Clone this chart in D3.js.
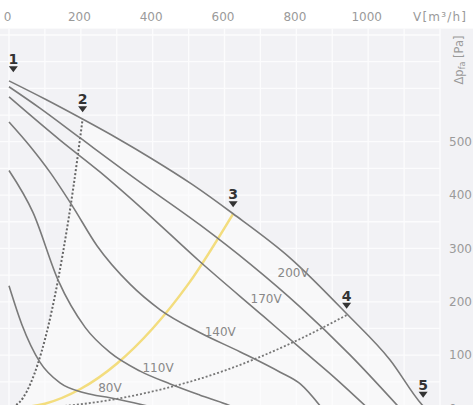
<!DOCTYPE html>
<html><head><meta charset="utf-8">
<script src="https://cdn.jsdelivr.net/npm/d3@7"></script>
<style>
html,body{margin:0;padding:0;background:#fff;}
svg{display:block;font-family:"DejaVu Sans",Verdana,sans-serif;}
</style>
</head><body>
<svg id="chart" width="473" height="405"></svg>
<script>
// ---- data ----
const xTicks = [0, 200, 400, 600, 800, 1000];
const yTicks = [0, 100, 200, 300, 400, 500];
const xUnit = "V[m³/h]";
const yUnitMain = "Δp";
const yUnitSub = "fa";
const yUnitTail = " [Pa]";

// top (maximum) fan curve, unlabeled in the visible area
const topFlow     = [0, 100, 206, 300, 393, 510, 624, 783, 941, 1061, 1150, 1160];
const topPressure = [614, 580, 542, 507, 470, 420, 365, 282, 177, 91, 7, 0];
// voltage curves
const v200Flow     = [0, 86, 198, 357, 532, 671, 811, 950, 1089];
const v200Pressure = [603, 563, 507, 428, 344, 271, 190, 100, 0];
const v170Flow     = [0, 142, 254, 365, 532, 708, 811, 908, 1000];
const v170Pressure = [584, 503, 443, 378, 275, 173, 113, 57, 0];
const v140Flow     = [0, 58, 114, 178, 245, 337, 421, 532, 644, 755, 811, 872];
const v140Pressure = [537, 492, 443, 378, 305, 233, 185, 142, 106, 68, 46, 0];
const v110Flow     = [0, 67, 137, 212, 281, 365, 449, 532, 616, 632];
const v110Pressure = [446, 367, 240, 152, 105, 70, 46, 25, 5, 0];
const v80Flow      = [0, 36, 86, 142, 212, 281, 365, 415];
const v80Pressure  = [230, 157, 87, 48, 29, 20, 8, 0];

// curve labels
const curveLabels    = ["200V", "170V", "140V", "110V", "80V"];
const labelFlow      = [791, 716, 588, 415, 281];
const labelPressure  = [246, 198, 135, 68, 31];

// operating point markers (on the top curve)
const markerNames    = ["1", "2", "3", "4", "5"];
const markerFlow     = [12, 205, 624, 940, 1153];
const markerPressure = [618, 543, 365, 175, 8];

// system curves through markers 2, 3, 4
const sys2Flow     = [0, 40, 80, 120, 150, 180, 205];
const sys2Pressure = [0, 21, 83, 186, 291, 418, 543];
const sys3Flow     = [0, 100, 200, 300, 400, 500, 624];
const sys3Pressure = [0, 9, 37, 84, 150, 234, 365];
const sys4Flow     = [0, 200, 400, 600, 800, 940];
const sys4Pressure = [0, 8, 32, 71, 127, 175];

// ---- drawing ----
const svg = d3.select("#chart");
const W = 473, H = 405;
const x = d3.scaleLinear().domain([0, 1200]).range([9, 440]);
const y = d3.scaleLinear().domain([0, 712]).range([408.5, 28.6]);

const zip = (a, b) => a.map((v, i) => [v, b[i]]);
const line = d3.line().x(d => x(d[0])).y(d => y(d[1])).curve(d3.curveMonotoneX);

// background of plot area
svg.append("rect").attr("x", 0).attr("y", y(712)).attr("width", W).attr("height", H - y(712))
  .attr("fill", "#f2f2f5");

// lighter operating region: under top curve, right of system curve 2
const topPts = zip(topFlow, topPressure);
const sys2Pts = zip(sys2Flow, sys2Pressure);
const regionD = line(sys2Pts) + line(topPts.filter(d => d[0] >= 206)).replace(/^M/, "L")
  + "L" + x(topFlow[topFlow.length - 1]) + "," + y(0) + "Z";
svg.append("path").attr("d", regionD).attr("fill", "#f8f8f9");

// grid
const grid = svg.append("g").attr("stroke", "#fcfcfd").attr("stroke-width", 1.3);
grid.selectAll("line.v").data(d3.range(0, 1201, 100)).join("line")
  .attr("x1", d => x(d)).attr("x2", d => x(d)).attr("y1", y(712)).attr("y2", H);
grid.selectAll("line.h").data(d3.range(0, 701, 50)).join("line")
  .attr("x1", 0).attr("x2", x(1200)).attr("y1", d => y(d)).attr("y2", d => y(d));

// x axis labels (top)
const xAxis = d3.axisTop(x).tickValues(xTicks).tickSize(0).tickPadding(3).tickFormat(d3.format("d"));
const gx = svg.append("g").attr("transform", "translate(-2,24)").call(xAxis);
gx.select(".domain").remove();
gx.selectAll("text").attr("font-size", 12).attr("fill", "#9a9a9a").attr("font-family", "DejaVu Sans, sans-serif");
svg.append("text").attr("x", 413).attr("y", 21).attr("font-size", 12).attr("fill", "#9a9a9a")
  .attr("letter-spacing", 1.2).text(xUnit);

// y axis labels (right)
const yAxis = d3.axisRight(y).tickValues(yTicks).tickSize(0).tickPadding(9).tickFormat(d3.format("d"));
const gy = svg.append("g").attr("transform", `translate(${x(1200)},0)`).call(yAxis);
gy.select(".domain").remove();
gy.selectAll("text").attr("font-size", 12).attr("fill", "#9a9a9a").attr("font-family", "DejaVu Sans, sans-serif");
const yt = svg.append("text").attr("transform", "translate(463,60) rotate(-90)")
  .attr("text-anchor", "middle").attr("font-size", 11.5).attr("fill", "#9a9a9a");
yt.append("tspan").text(yUnitMain);
yt.append("tspan").attr("font-size", 8).attr("dy", 2).text(yUnitSub);
yt.append("tspan").attr("dy", -2).text(yUnitTail);

// system curves
svg.append("path").attr("d", line(zip(sys3Flow, sys3Pressure))).attr("fill", "none")
  .attr("stroke", "#f2d970").attr("stroke-width", 2.5).attr("stroke-opacity", 0.9);
svg.append("path").attr("d", line(sys2Pts)).attr("fill", "none")
  .attr("stroke", "#666").attr("stroke-width", 2).attr("stroke-dasharray", "2,2");
svg.append("path").attr("d", line(zip(sys4Flow, sys4Pressure))).attr("fill", "none")
  .attr("stroke", "#777").attr("stroke-width", 1.8).attr("stroke-dasharray", "2,2");

// fan curves
const fanCurves = [
  zip(topFlow, topPressure),
  zip(v200Flow, v200Pressure),
  zip(v170Flow, v170Pressure),
  zip(v140Flow, v140Pressure),
  zip(v110Flow, v110Pressure),
  zip(v80Flow, v80Pressure)
];
svg.append("g").selectAll("path").data(fanCurves).join("path")
  .attr("d", d => line(d)).attr("fill", "none").attr("stroke", "#7a7a7a").attr("stroke-width", 1.6);

// curve labels
svg.append("g").selectAll("text").data(curveLabels).join("text")
  .attr("x", (d, i) => x(labelFlow[i])).attr("y", (d, i) => y(labelPressure[i]))
  .attr("text-anchor", "middle").attr("font-size", 12).attr("fill", "#888").text(d => d);

// markers
const mk = svg.append("g").selectAll("g").data(markerNames).join("g")
  .attr("transform", (d, i) => `translate(${x(markerFlow[i])},${y(markerPressure[i])})`);
mk.append("path").attr("d", "M-4.5,-12.5L4.5,-12.5L0,-6.5Z").attr("fill", "#333");
mk.append("text").attr("y", -14.5).attr("text-anchor", "middle").attr("font-size", 14)
  .attr("font-weight", "bold").attr("fill", "#333").text(d => d);
</script>
</body></html>
